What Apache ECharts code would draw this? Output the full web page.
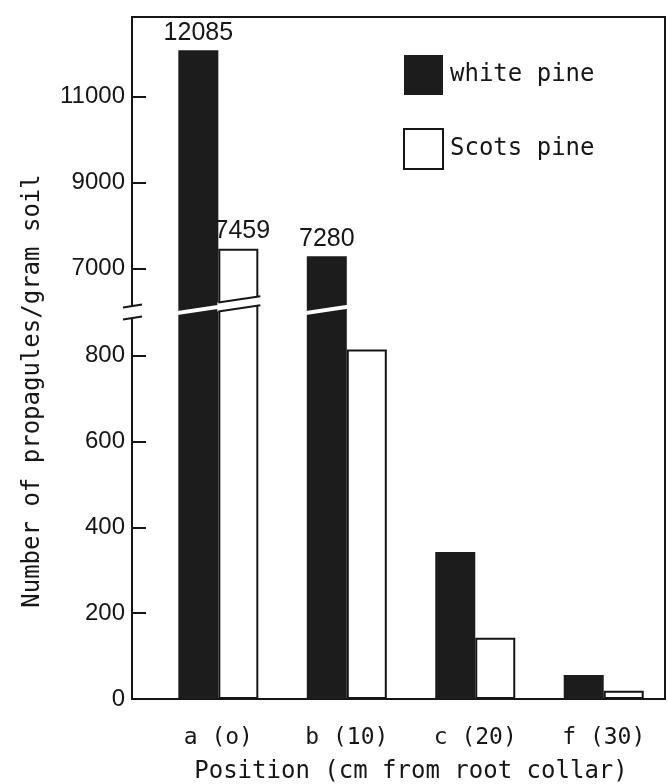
<!DOCTYPE html>
<html>
<head>
<meta charset="utf-8">
<script src="https://cdn.jsdelivr.net/npm/echarts@6/dist/echarts.min.js"></script>
<style>
  html, body { margin: 0; padding: 0; background: #ffffff; }
  #chart { width: 667px; height: 784px; }
</style>
</head>
<body>
<div id="chart"></div>
<script>
// ---- data ----
const categories = ['a (o)', 'b (10)', 'c (20)', 'f (30)'];
const whitePine = [12085, 7280, 343, 56];
const scotsPine = [7459, 815, 143, 19];
const yTickLabels = [0, 200, 400, 600, 800, 7000, 9000, 11000];

// ---- broken-axis mapping (lower segment linear, upper segment compressed x10) ----
const LOWER_LIMIT = 1000;     // values above this are drawn on the upper (compressed) scale
const UPPER_BASE = 7000;
const UPPER_AT = 1004;        // display position of 7000
const UPPER_FACTOR = 10;
const BREAK_DISP = 914;       // display position of the break marks
function toDisp(v) { return v <= LOWER_LIMIT ? v : UPPER_AT + (v - UPPER_BASE) / UPPER_FACTOR; }
function fromDisp(d) { return d <= LOWER_LIMIT ? Math.round(d) : Math.round(UPPER_BASE + (d - UPPER_AT) * UPPER_FACTOR); }

const MONO = "'DejaVu Sans Mono', 'Liberation Mono', monospace";
const SANS = "'Liberation Sans', Arial, sans-serif";
const INK = '#161616';
const BAR_W = 40;
const SLOPE = 0.15;

function barData(arr) {
  return arr.map((v, i) => ({
    value: [i, toDisp(v), v],
    label: { show: v > LOWER_LIMIT }
  }));
}

const breakItems = [];
whitePine.forEach((v, i) => { if (v > LOWER_LIMIT) breakItems.push([i, BREAK_DISP, -1]); });
scotsPine.forEach((v, i) => { if (v > LOWER_LIMIT) breakItems.push([i, BREAK_DISP, 1]); });

const tickDisp = yTickLabels.map(toDisp);

function renderBarBreak(params, api) {
  const i = api.value(0), side = api.value(2);
  const c = api.coord([i, api.value(1)]);
  const xc = c[0], yb = c[1];
  const x0 = side < 0 ? xc - BAR_W : xc;
  const x1 = side < 0 ? xc : xc + BAR_W;
  const yAt = x => yb - SLOPE * (x - xc);
  const children = [];
  if (side < 0) {
    const h = 2;
    const a = x0 - 1, b = x1 + 1;
    children.push({
      type: 'polygon',
      shape: { points: [[a, yAt(a) - h], [b, yAt(b) - h], [b, yAt(b) + h], [a, yAt(a) + h]] },
      style: { fill: '#ffffff' }
    });
  } else {
    const h = 4.5;
    const a = x0 - 1, b = x1 + 2;
    children.push({
      type: 'polygon',
      shape: { points: [[a, yAt(a) - h], [b, yAt(b) - h], [b, yAt(b) + h], [a, yAt(a) + h]] },
      style: { fill: '#ffffff' }
    });
    children.push({
      type: 'line',
      shape: { x1: x0, y1: yAt(x0) - h, x2: x1 + 2, y2: yAt(x1 + 2) - h },
      style: { stroke: INK, lineWidth: 2 }
    });
    children.push({
      type: 'line',
      shape: { x1: x0, y1: yAt(x0) + h, x2: x1 + 2, y2: yAt(x1 + 2) + h },
      style: { stroke: INK, lineWidth: 2 }
    });
  }
  return { type: 'group', children: children };
}

function renderAxisBreak(params, api) {
  const c = api.coord([api.value(0), api.value(1)]);
  const ax = c[0], yc = c[1] + 5;
  return {
    type: 'group',
    children: [
      { type: 'rect', shape: { x: ax - 3, y: yc - 6, width: 6, height: 12 }, style: { fill: '#ffffff' } },
      { type: 'line', shape: { x1: ax - 9, y1: yc - 6 + 1.5, x2: ax + 10, y2: yc - 6 - 1.5 }, style: { stroke: INK, lineWidth: 2 } },
      { type: 'line', shape: { x1: ax - 9, y1: yc + 6 + 1.5, x2: ax + 10, y2: yc + 6 - 1.5 }, style: { stroke: INK, lineWidth: 2 } }
    ]
  };
}

const X_MIN = -0.672, X_MAX = 3.477;

const chart = echarts.init(document.getElementById('chart'), null, { renderer: 'canvas' });
chart.setOption({
  animation: false,
  backgroundColor: '#ffffff',
  grid: {
    left: 132, top: 17, right: 2, bottom: 85,
    show: true, borderColor: INK, borderWidth: 2, backgroundColor: 'transparent',
    containLabel: false,
    outerBoundsMode: 'none'
  },
  legend: {
    left: 398, top: 50, orient: 'vertical',
    itemWidth: 39, itemHeight: 40, itemGap: 33,
    icon: 'rect',
    selectedMode: false,
    textStyle: { fontFamily: MONO, fontSize: 24, color: INK, padding: [0, 0, 0, 2] },
    data: ['white pine', 'Scots pine']
  },
  xAxis: {
    type: 'value', min: X_MIN, max: X_MAX,
    splitLine: { show: false },
    axisLine: { show: false, onZero: false },
    axisTick: { show: false },
    axisLabel: {
      customValues: [0, 1, 2, 3],
      formatter: v => categories[Math.round(v)] || '',
      fontFamily: MONO, fontSize: 23, color: INK, margin: 25, lineHeight: 28
    },
    name: 'Position (cm from root collar)',
    nameLocation: 'middle', nameGap: 59,
    nameTextStyle: { fontFamily: MONO, fontSize: 24, color: INK, lineHeight: 28, padding: [0, 0, 0, 25] }
  },
  yAxis: {
    type: 'value', min: 0, max: 1590,
    splitLine: { show: false },
    axisLine: { show: true, onZero: false, lineStyle: { color: INK, width: 2 } },
    axisTick: {
      show: true, inside: true, length: 14,
      customValues: tickDisp.filter(v => v > 0),
      lineStyle: { color: INK, width: 2 }
    },
    axisLabel: {
      customValues: tickDisp,
      formatter: v => String(fromDisp(v)),
      fontFamily: SANS, fontSize: 24, color: INK, margin: 7
    },
    name: 'Number of propagules/gram soil',
    nameLocation: 'middle', nameGap: 85,
    nameTextStyle: { fontFamily: MONO, fontSize: 24, color: INK, lineHeight: 28, padding: [0, 66, 0, 0] }
  },
  series: [
    {
      name: 'white pine', type: 'bar',
      barWidth: BAR_W, barGap: '0%',
      encode: { x: 0, y: 1 },
      itemStyle: { color: '#1c1c1c', borderColor: '#1c1c1c', borderWidth: 0 },
      label: {
        position: 'top', distance: 5,
        formatter: p => String(p.value[2]),
        fontFamily: SANS, fontSize: 25, color: INK
      },
      data: barData(whitePine)
    },
    {
      name: 'Scots pine', type: 'bar',
      barWidth: BAR_W, barGap: '0%',
      encode: { x: 0, y: 1 },
      itemStyle: { color: '#ffffff', borderColor: INK, borderWidth: 2 },
      label: {
        position: 'top', distance: 5, offset: [4, 0],
        formatter: p => String(p.value[2]),
        fontFamily: SANS, fontSize: 25, color: INK
      },
      data: barData(scotsPine)
    },
    {
      type: 'custom', name: 'bar breaks', z: 5, clip: false,
      encode: { x: 0, y: 1 },
      renderItem: renderBarBreak,
      data: breakItems,
      silent: true
    },
    {
      type: 'custom', name: 'axis break', z: 5, clip: false,
      encode: { x: 0, y: 1 },
      renderItem: renderAxisBreak,
      data: [[X_MIN, BREAK_DISP]],
      silent: true
    }
  ]
});
</script>
</body>
</html>
